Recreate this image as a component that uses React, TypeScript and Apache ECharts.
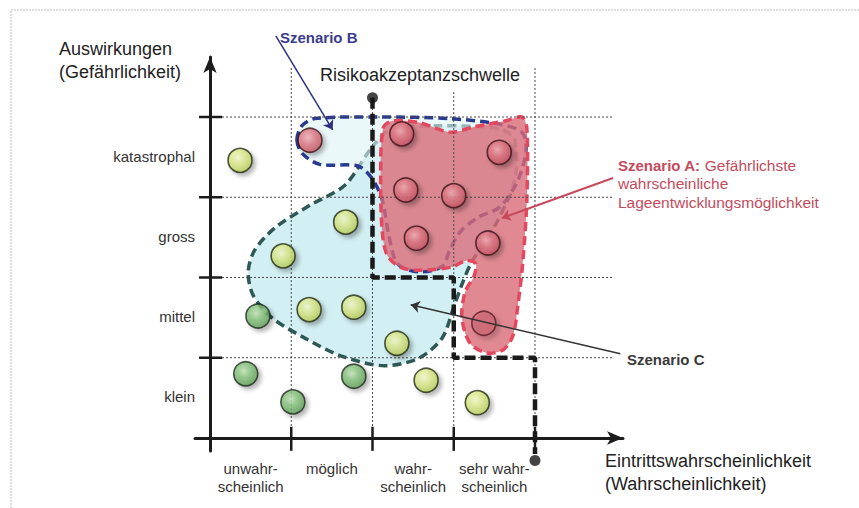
import React, { useEffect, useRef } from 'react';
import * as echarts from 'echarts';

// ---- data (in chart units: one cell = 1) ----
const xCategories = ['unwahr-\nscheinlich', 'möglich', 'wahr-\nscheinlich', 'sehr wahr-\nscheinlich'];
const yCategories = ['klein', 'mittel', 'gross', 'katastrophal'];

const greenPoints = [[0.59, 1.52], [0.44, 0.8], [1.77, 0.77], [1.02, 0.45]];
const yellowPoints = [[0.37, 3.46], [1.67, 2.69], [0.9, 2.27], [1.22, 1.6], [1.77, 1.63], [2.3, 1.18], [2.66, 0.72], [3.29, 0.44]];
const redPoints = [[1.23, 3.71], [2.36, 3.79], [3.56, 3.56], [2.41, 3.09], [3.0, 3.02], [2.54, 2.49], [3.42, 2.43]];
const redOutlinePoints = [[3.37, 1.43]];

const thresholdLine = [[2, 4.24], [2, 2], [3, 2], [3, 1], [4, 1], [4, -0.2]];
const thresholdEnds = [[2, 4.24], [4, -0.28]];

const regionC = [
  [1.97, 3.59], [1.66, 3.15], [1.23, 2.9], [0.8, 2.62], [0.55, 2.34], [0.47, 2.07], [0.53, 1.78],
  [0.76, 1.5], [1.14, 1.26], [1.62, 1.02], [2.15, 0.9], [2.58, 1.0], [2.86, 1.25], [2.99, 1.6],
  [3.1, 1.91], [3.22, 2.19], [3.51, 2.65], [3.75, 3.21], [3.75, 3.71], [3.57, 3.85], [2.83, 3.89], [2.22, 3.84],
];
const regionB = [
  [1.07, 3.71], [1.13, 3.89], [1.29, 3.98], [2.09, 4.0], [2.95, 3.98], [3.57, 3.91], [3.84, 3.81],
  [3.89, 3.59], [3.79, 3.21], [3.57, 2.88], [3.3, 2.75], [3.08, 2.57], [2.95, 2.34], [2.86, 2.14],
  [2.58, 2.07], [2.31, 2.17], [2.2, 2.53], [2.12, 2.97], [1.99, 3.24], [1.82, 3.39], [1.35, 3.41], [1.14, 3.54],
];
const regionA = [
  [2.13, 3.86], [2.24, 3.95], [2.58, 3.93], [2.95, 3.81], [3.26, 3.88], [3.63, 3.95], [3.84, 4.0],
  [3.9, 3.86], [3.9, 2.97], [3.85, 2.19], [3.79, 1.66], [3.73, 1.28], [3.61, 1.1], [3.41, 1.06],
  [3.2, 1.18], [3.1, 1.5], [3.14, 1.82], [3.25, 2.02], [3.27, 2.17], [3.15, 2.21], [2.98, 2.13],
  [2.58, 2.09], [2.34, 2.13], [2.18, 2.28], [2.12, 2.57], [2.1, 3.21],
];

const arrowB = [[0.81, 5.01], [1.51, 3.84]];
const arrowA = [[4.96, 3.24], [3.59, 2.74]];
const arrowC = [[5.05, 1.05], [2.47, 1.66]];

const gridLevels = [1, 2, 3, 4];
const verticalTops = [4.61, 4.24, 4.31, 4.61];

// ---- layout ----
const X0 = 210, UX = 81.25, Y0 = 438, UY = 80.25;
const GL = 195, GR = 623, GT = 57, GB = 451;
const W = 859, H = 508;
const xMin = (GL - X0) / UX, xMax = (GR - X0) / UX;
const yMin = (Y0 - GB) / UY, yMax = (Y0 - GT) / UY;

const FF = '"Liberation Sans", Arial, Helvetica, sans-serif';
const RED_TEXT = '#c44b5c';

function grad(c0: string, c1: string, c2: string) {
  return new echarts.graphic.RadialGradient(0.42, 0.38, 0.62, [
    { offset: 0, color: c0 },
    { offset: 0.45, color: c1 },
    { offset: 1, color: c2 },
  ]);
}

function markerSeries(data: number[][], color: any, border: string) {
  return {
    type: 'scatter',
    data,
    symbol: 'circle',
    symbolSize: 24,
    z: 10,
    silent: true,
    clip: false,
    itemStyle: {
      color,
      borderColor: border,
      borderWidth: 1.6,
      shadowBlur: 4,
      shadowOffsetX: 3,
      shadowOffsetY: 3,
      shadowColor: 'rgba(0,0,0,0.35)',
    },
  };
}

function regionSeries(pts: number[][], fill: string, stroke: string, z: number) {
  return {
    type: 'custom',
    coordinateSystem: 'cartesian2d',
    silent: true,
    clip: false,
    z,
    data: [[0, 0]],
    renderItem: (_p: any, api: any) => ({
      type: 'polygon',
      shape: { points: pts.map((p) => api.coord(p)), smooth: 0.3 },
      style: { fill, stroke, lineWidth: 3.5, lineDash: [9, 5] },
    }),
  };
}

function arrowSeries(coords: number[][], color: string, width: number) {
  return {
    type: 'lines',
    coordinateSystem: 'cartesian2d',
    silent: true,
    clip: false,
    z: 12,
    symbol: ['none', 'arrow'],
    symbolSize: 9,
    lineStyle: { color, width, opacity: 1, curveness: 0 },
    data: [{ coords }],
  };
}

function txt(x: number, y: number, text: string, font: string, fill: string) {
  return { type: 'text', x, y, style: { text, font, fill, align: 'left', verticalAlign: 'middle' } };
}

export default function App() {
  const ref = useRef<HTMLDivElement>(null);
  useEffect(() => {
    document.body.style.margin = '0';
    const chart = echarts.init(ref.current!, undefined, { renderer: 'svg' });
    const option: any = {
      animation: false,
      backgroundColor: '#ffffff',
      grid: { left: GL, right: W - GR, top: GT, bottom: H - GB },
      xAxis: {
        type: 'value', min: xMin, max: xMax,
        axisLine: { show: true, onZero: true, symbol: ['none', 'arrow'], symbolSize: [10, 16], lineStyle: { color: '#1c1c1c', width: 3 } },
        axisTick: { show: false }, axisLabel: { show: false }, splitLine: { show: false },
      },
      yAxis: {
        type: 'value', min: yMin, max: yMax,
        axisLine: { show: true, onZero: true, symbol: ['none', 'arrow'], symbolSize: [10, 16], lineStyle: { color: '#1c1c1c', width: 3 } },
        axisTick: { show: false }, axisLabel: { show: false }, splitLine: { show: false },
      },
      graphic: [
        { type: 'polyline', shape: { points: [[11, H], [11, 10], [W, 10]] }, style: { stroke: '#bdbdbd', lineWidth: 1, lineDash: [2, 1], fill: 'none' }, silent: true },
        txt(59, 49, 'Auswirkungen', `18px ${FF}`, '#222'),
        txt(59, 72, '(Gefährlichkeit)', `18px ${FF}`, '#222'),
        txt(320, 75, 'Risikoakzeptanzschwelle', `18px ${FF}`, '#222'),
        txt(280, 37, 'Szenario B', `bold 15px ${FF}`, '#3a3d8c'),
        txt(605, 461, 'Eintrittswahrscheinlichkeit', `18px ${FF}`, '#222'),
        txt(605, 484, '(Wahrscheinlichkeit)', `18px ${FF}`, '#222'),
        {
          type: 'text', x: 618, y: 165,
          style: {
            text: '{b|Szenario A:} Gefährlichste', font: `15.5px ${FF}`, fill: RED_TEXT, align: 'left', verticalAlign: 'middle',
            rich: { b: { font: `bold 15px ${FF}`, fill: RED_TEXT, fontWeight: 'bold', fontSize: 15, fontFamily: FF } },
          },
        },
        txt(618, 183.5, 'wahrscheinliche', `15.5px ${FF}`, RED_TEXT),
        txt(618, 202, 'Lageentwicklungsmöglichkeit', `15.5px ${FF}`, RED_TEXT),
        txt(627, 359, 'Szenario C', `bold 15px ${FF}`, '#3a3a3a'),
      ],
      series: [
        regionSeries(regionC, '#d2eff3', '#2e5856', 1),
        regionSeries(regionB, 'rgba(222,243,247,0.6)', '#2b3a8e', 2),
        regionSeries(regionA, 'rgba(218,108,120,0.8)', '#e4485e', 3),
        {
          type: 'custom', coordinateSystem: 'cartesian2d', silent: true, clip: false, z: 5,
          data: [[0, 0]],
          renderItem: (_p: any, api: any) => {
            const children: any[] = [];
            const dotted = { stroke: '#4a4a4a', lineWidth: 1, lineDash: [2, 2] };
            const solid = { stroke: '#1c1c1c', lineWidth: 2.5 };
            gridLevels.forEach((v) => {
              const a = api.coord([0, v]);
              const b = api.coord([4.96, v]);
              children.push({ type: 'line', shape: { x1: a[0], y1: a[1], x2: b[0], y2: b[1] }, style: dotted });
              const t1 = api.coord([-0.135, v]);
              const t2 = api.coord([0.15, v]);
              children.push({ type: 'line', shape: { x1: t1[0], y1: t1[1], x2: t2[0], y2: t2[1] }, style: solid });
            });
            gridLevels.forEach((v, i) => {
              const a = api.coord([v, 0]);
              const b = api.coord([v, verticalTops[i]]);
              children.push({ type: 'line', shape: { x1: a[0], y1: a[1], x2: b[0], y2: b[1] }, style: dotted });
              const t1 = api.coord([v, -0.16]);
              const t2 = api.coord([v, 0.14]);
              children.push({ type: 'line', shape: { x1: t1[0], y1: t1[1], x2: t2[0], y2: t2[1] }, style: solid });
            });
            return { type: 'group', children };
          },
        },
        {
          type: 'custom', coordinateSystem: 'cartesian2d', silent: true, clip: false, z: 6,
          data: yCategories.map((_, i) => [0, i + 0.5]),
          renderItem: (params: any, api: any) => {
            const p = api.coord([api.value(0), api.value(1)]);
            return {
              type: 'text', x: p[0] - 15, y: p[1] - 1,
              style: { text: yCategories[params.dataIndex], font: `15px ${FF}`, fill: '#333', align: 'right', verticalAlign: 'middle' },
            };
          },
        },
        {
          type: 'custom', coordinateSystem: 'cartesian2d', silent: true, clip: false, z: 6,
          data: xCategories.map((_, i) => [i + 0.5, 0]),
          renderItem: (params: any, api: any) => {
            const p = api.coord([api.value(0), api.value(1)]);
            return {
              type: 'text', x: p[0], y: p[1] + 21,
              style: { text: xCategories[params.dataIndex], font: `15px ${FF}`, fill: '#333', align: 'center', verticalAlign: 'top', lineHeight: 18 },
            };
          },
        },
        {
          type: 'line', data: thresholdLine, symbol: 'none', z: 8, clip: false, silent: true,
          lineStyle: { color: '#1a1a1a', width: 4.5, type: [11, 5] },
        },
        {
          type: 'scatter', data: thresholdEnds, symbol: 'circle', symbolSize: 11, z: 8, clip: false, silent: true,
          itemStyle: { color: '#151515' },
        },
        arrowSeries(arrowB, '#2d3182', 1.5),
        arrowSeries(arrowA, '#c8495b', 2),
        arrowSeries(arrowC, '#333333', 1.5),
        markerSeries(greenPoints, grad('#c4e3b8', '#86c27c', '#5f9f59'), '#1e2a1e'),
        markerSeries(yellowPoints, grad('#f6fad0', '#dcea8c', '#b8cd5a'), '#222a12'),
        markerSeries(redPoints, grad('#f2b3b8', '#e07c88', '#c65565'), '#3a1418'),
        markerSeries(redOutlinePoints, 'rgba(205,90,105,0.55)', '#5a1a24'),
      ],
    };
    chart.setOption(option);
    return () => chart.dispose();
  }, []);
  return <div ref={ref} style={{ width: W, height: H, background: '#fff' }} />;
}
